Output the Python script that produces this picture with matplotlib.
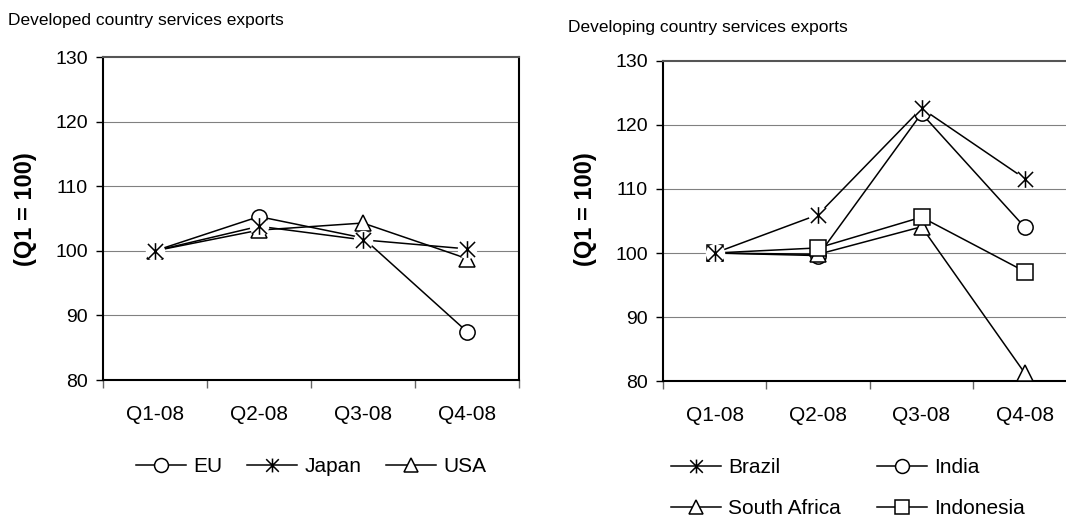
import matplotlib
matplotlib.use("Agg")
import matplotlib.pyplot as plt
from matplotlib.path import Path

plt.rcParams["font.family"] = ["Liberation Sans", "DejaVu Sans"]

# Data
quarters = ["Q1-08", "Q2-08", "Q3-08", "Q4-08"]

eu = [100, 105.3, 102.0, 87.5]
japan = [100, 103.8, 101.7, 100.3]
usa = [100, 103.2, 104.3, 98.8]

brazil = [100, 106.0, 122.6, 111.6]
india = [100, 99.6, 121.8, 104.0]
south_africa = [100, 99.8, 104.1, 81.2]
indonesia = [100, 100.8, 105.6, 97.1]

# Excel style asterisk: X plus vertical bar
STAR = Path(
    [(-1, -1), (1, 1), (-1, 1), (1, -1), (0, -1.1), (0, 1.1)],
    [Path.MOVETO, Path.LINETO, Path.MOVETO, Path.LINETO, Path.MOVETO, Path.LINETO],
)

LW = 1.1
MS = 11


def draw_series(ax, vals, marker, label):
    x = range(len(vals))
    if marker == "star":
        ax.plot(x, vals, color="black", lw=LW, zorder=3)
        # white patch under the asterisk so lines stop short of it
        ax.plot(x, vals, ls="none", marker="o", ms=MS + 3, mfc="white",
                mec="none", zorder=4)
        ax.plot(x, vals, ls="none", marker=STAR, ms=MS + 1, mec="black",
                mew=LW, zorder=5)
        handle, = ax.plot([], [], color="black", lw=LW, marker=STAR, ms=MS - 1,
                          mec="black", mew=LW, label=label)
    else:
        ax.plot(x, vals, color="black", lw=LW, marker=marker,
                ms=MS, mfc="white", mec="black", mew=LW, zorder=3)
        handle, = ax.plot([], [], color="black", lw=LW, marker=marker,
                          ms=MS - 1, mfc="white", mec="black", mew=LW,
                          label=label)
    return handle


def style_axes(ax):
    ax.set_xlim(-0.5, 3.5)
    ax.set_ylim(80, 130)
    ax.set_yticks([80, 90, 100, 110, 120, 130])
    ax.set_xticks(range(4))
    ax.set_xticklabels(quarters)
    ax.set_xticks([-0.5, 0.5, 1.5, 2.5, 3.5], minor=True)
    ax.tick_params(axis="x", which="major", length=0, pad=18, labelsize=15)
    ax.tick_params(axis="x", which="minor", length=6, width=1, color="#666666")
    ax.tick_params(axis="y", length=5, width=1, pad=6, labelsize=14)
    for y in [90, 100, 110, 120]:
        ax.axhline(y, color="#808080", lw=0.8, zorder=1)
    for s in ["left", "bottom", "right"]:
        ax.spines[s].set_color("black")
        ax.spines[s].set_linewidth(1.5)
    ax.spines["top"].set_color("#555555")
    ax.spines["top"].set_linewidth(1.5)


fig = plt.figure(figsize=(10.66, 5.3), dpi=100)

ax1 = fig.add_axes([0.0966, 0.283, 0.3902, 0.6094])
ax2 = fig.add_axes([0.622, 0.281, 0.388, 0.604])

h_eu = draw_series(ax1, eu, "o", "EU")
h_jp = draw_series(ax1, japan, "star", "Japan")
h_us = draw_series(ax1, usa, "^", "USA")
style_axes(ax1)

h_br = draw_series(ax2, brazil, "star", "Brazil")
h_in = draw_series(ax2, india, "o", "India")
h_sa = draw_series(ax2, south_africa, "^", "South Africa")
h_id = draw_series(ax2, indonesia, "s", "Indonesia")
style_axes(ax2)

fig.text(0.0075, 0.962, "Developed country services exports", fontsize=12.5,
         va="center", ha="left")
fig.text(0.533, 0.949, "Developing country services exports", fontsize=12.5,
         va="center", ha="left")
fig.text(0.024, 0.605, "(Q1 = 100)", fontsize=17, fontweight="bold",
         rotation=90, va="center", ha="center")
fig.text(0.549, 0.605, "(Q1 = 100)", fontsize=17, fontweight="bold",
         rotation=90, va="center", ha="center")

fig.legend(handles=[h_eu, h_jp, h_us], loc="center", ncol=3,
           bbox_to_anchor=(0.292, 0.119), frameon=False, fontsize=15,
           handlelength=2.4, handletextpad=0.35, columnspacing=1.2,
           numpoints=1)
fig.legend(handles=[h_br, h_sa, h_in, h_id], loc="center left", ncol=2,
           bbox_to_anchor=(0.612, 0.079), frameon=False, fontsize=15,
           handlelength=2.4, handletextpad=0.35, columnspacing=1.7,
           labelspacing=1.05, numpoints=1)

fig.savefig("out.png", dpi=100)
